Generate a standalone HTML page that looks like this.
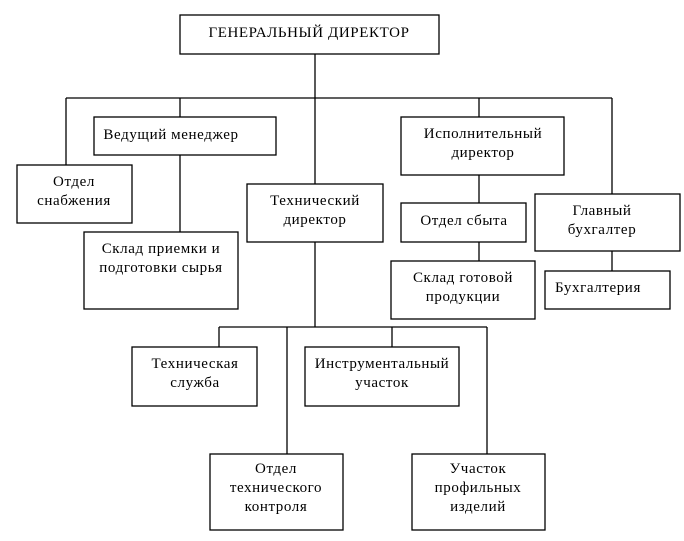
<!DOCTYPE html>
<html><head><meta charset="utf-8"><style>html,body{margin:0;padding:0;background:#fff}</style></head><body>
<svg width="684" height="536" xmlns="http://www.w3.org/2000/svg" font-family="Liberation Serif, serif" font-size="15" letter-spacing="0.6" fill="#000">
<g stroke="#000" stroke-width="1.3" fill="none">
<line x1="315" y1="54" x2="315" y2="184"/>
<line x1="66" y1="98" x2="612" y2="98"/>
<line x1="66" y1="98" x2="66" y2="165"/>
<line x1="180" y1="98" x2="180" y2="117"/>
<line x1="180" y1="155" x2="180" y2="232"/>
<line x1="479" y1="98" x2="479" y2="117"/>
<line x1="479" y1="175" x2="479" y2="203"/>
<line x1="479" y1="242" x2="479" y2="261"/>
<line x1="612" y1="98" x2="612" y2="194"/>
<line x1="612" y1="251" x2="612" y2="271"/>
<line x1="315" y1="242" x2="315" y2="327"/>
<line x1="219" y1="327" x2="487" y2="327"/>
<line x1="219" y1="327" x2="219" y2="347"/>
<line x1="392" y1="327" x2="392" y2="347"/>
<line x1="287" y1="327" x2="287" y2="454"/>
<line x1="487" y1="327" x2="487" y2="454"/>
<rect x="180" y="15" width="259" height="39" fill="#fff"/>
<rect x="94" y="117" width="182" height="38" fill="#fff"/>
<rect x="17" y="165" width="115" height="58" fill="#fff"/>
<rect x="84" y="232" width="154" height="77" fill="#fff"/>
<rect x="247" y="184" width="136" height="58" fill="#fff"/>
<rect x="401" y="117" width="163" height="58" fill="#fff"/>
<rect x="401" y="203" width="125" height="39" fill="#fff"/>
<rect x="391" y="261" width="144" height="58" fill="#fff"/>
<rect x="535" y="194" width="145" height="57" fill="#fff"/>
<rect x="545" y="271" width="125" height="38" fill="#fff"/>
<rect x="132" y="347" width="125" height="59" fill="#fff"/>
<rect x="305" y="347" width="154" height="59" fill="#fff"/>
<rect x="210" y="454" width="133" height="76" fill="#fff"/>
<rect x="412" y="454" width="133" height="76" fill="#fff"/>
</g>
<g text-anchor="middle">
<text x="309" y="37">ГЕНЕРАЛЬНЫЙ ДИРЕКТОР</text>
<text x="171" y="139">Ведущий менеджер</text>
<text x="74" y="186">Отдел</text><text x="74" y="205">снабжения</text>
<text x="161" y="253">Склад приемки и</text><text x="161" y="272">подготовки сырья</text>
<text x="315" y="205">Технический</text><text x="315" y="224">директор</text>
<text x="483" y="138">Исполнительный</text><text x="483" y="157">директор</text>
<text x="464" y="225">Отдел сбыта</text>
<text x="463" y="282">Склад готовой</text><text x="463" y="301">продукции</text>
<text x="602" y="215">Главный</text><text x="602" y="234">бухгалтер</text>
<text x="598" y="292">Бухгалтерия</text>
<text x="195" y="368">Техническая</text><text x="195" y="387">служба</text>
<text x="382" y="368">Инструментальный</text><text x="382" y="387">участок</text>
<text x="276" y="473">Отдел</text><text x="276" y="492">технического</text><text x="276" y="511">контроля</text>
<text x="478" y="473">Участок</text><text x="478" y="492">профильных</text><text x="478" y="511">изделий</text>
</g>
</svg>
</body></html>
